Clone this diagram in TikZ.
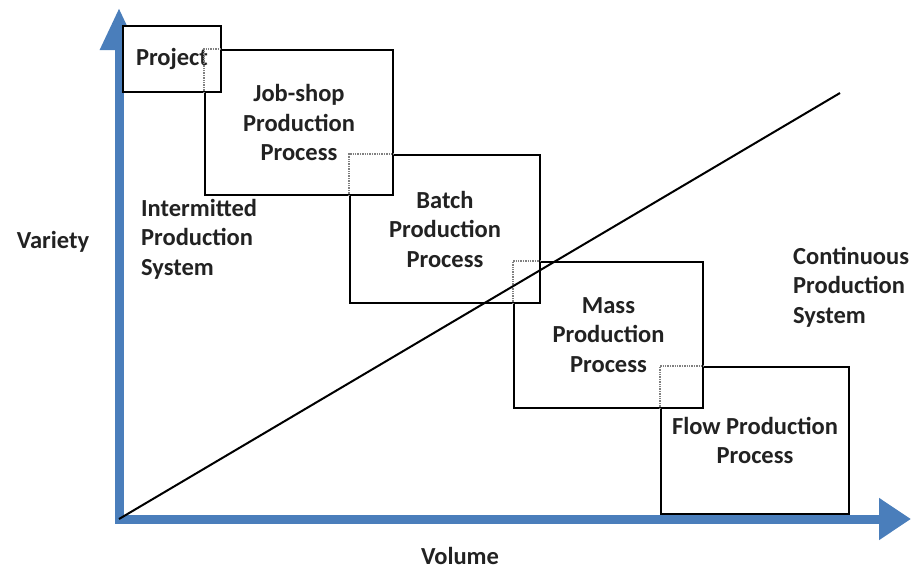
\documentclass[tikz,border=0pt]{standalone}
\usepackage{fontspec}
\setmainfont{Carlito}
\usetikzlibrary{arrows.meta}
\definecolor{axisblue}{HTML}{4A7EBB}
\definecolor{txt}{HTML}{222222}
\begin{document}
\begin{tikzpicture}[x=1pt,y=-1pt,
  every node/.style={font=\fontsize{24.5}{29.5}\selectfont\bfseries, text=txt, align=center, inner sep=0pt},
  procbox/.style={draw=black, line width=2pt, fill=white},
  hidden/.style={draw=gray, line width=1.4pt, densely dotted},
  axis/.style={draw=axisblue, line width=9pt, line join=miter},
  label/.style={align=left, anchor=west}]
\useasboundingbox (0,0) rectangle (912,571);

% axes
\coordinate (origin) at (119,519);
\coordinate (ytip) at (119,8);
\coordinate (xtip) at (911,519);
\draw[axis, {Triangle[length=42pt,width=36pt]}-{Triangle[length=32pt,width=40pt]}]
  (ytip) -- (origin) -- (xtip);

% process boxes, drawn from the last to the first so each earlier box lies on top
\node[procbox, minimum width=188pt, minimum height=147pt] (flow) at (755,440.5) {Flow Production\\Process};
\node[procbox, minimum width=189pt, minimum height=146pt] (mass) at (608.5,335) {Mass\\Production\\Process};
\node[procbox, minimum width=190pt, minimum height=148pt] (batch) at (445,229) {Batch\\Production\\Process};
\node[procbox, minimum width=188pt, minimum height=145pt] (job) at (299,122.5) {Job-shop\\Production\\Process};
\node[procbox, minimum width=98pt, minimum height=66pt] (project) at (172,59) {Project};

% covered corners shown dotted
\draw[hidden] (job.north west |- project.south) -- (job.north west) -- (job.north west -| project.east);
\draw[hidden] (batch.north west |- job.south) -- (batch.north west) -- (batch.north west -| job.east);
\draw[hidden] (mass.north west |- batch.south) -- (mass.north west) -- (mass.north west -| batch.east);
\draw[hidden] (flow.north west |- mass.south) -- (flow.north west) -- (flow.north west -| mass.east);

% dividing line between the two systems
\coordinate (lineend) at (840,93);
\draw[line width=2pt, black] (origin) -- (lineend);

% labels
\node (variety) at (53,242) {Variety};
\node (volume) at (460,556) {Volume};
\node[label] (intermitted) at (141,239) {Intermitted\\Production\\System};
\node[label] (continuous) at (793,287) {Continuous\\Production\\System};
\end{tikzpicture}
\end{document}
